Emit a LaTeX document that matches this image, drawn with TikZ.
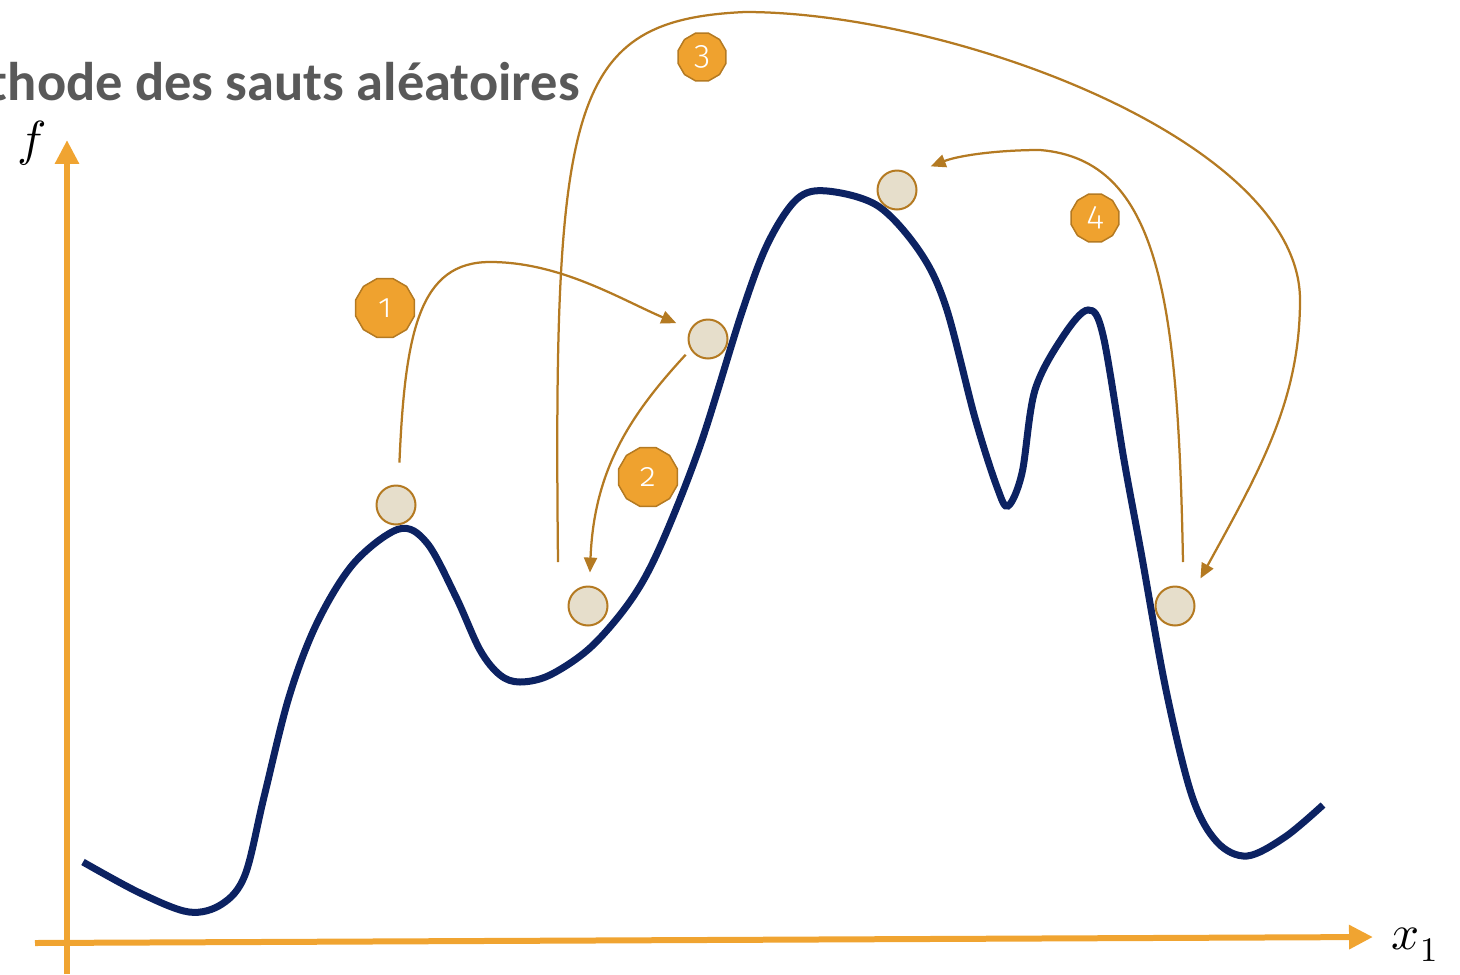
\documentclass[tikz,border=0pt]{standalone}
\usepackage{fontspec}
\usepackage{unicode-math}
\setsansfont{Carlito}
\newfontfamily\badgefont[Numbers=OldStyle]{Fira Sans Light}
\usetikzlibrary{arrows.meta,shapes.geometric}
\definecolor{axisorange}{HTML}{F0A431}
\definecolor{badgeorange}{HTML}{EFA22F}
\definecolor{jumpbrown}{HTML}{B47A22}
\definecolor{curvenavy}{HTML}{0C2262}
\definecolor{ballbeige}{HTML}{E6DECB}
\definecolor{titlegray}{HTML}{595959}
\tikzset{
  ball/.style={
    shape = circle,
    draw = jumpbrown,
    fill = ballbeige,
    line width = 0.04cm,
    minimum size = 0.78cm,
    inner sep = 0pt
  },
  badge/.style={
    shape = regular polygon,
    regular polygon sides = 12,
    draw = jumpbrown,
    fill = badgeorange,
    line width = 0.03cm,
    inner sep = 0pt,
    text = white,
    font = \badgefont\fontsize{19}{19}\selectfont
  },
  jump/.style={
    draw = jumpbrown,
    line width = 0.045cm,
    -{Triangle[length=0.3cm,width=0.26cm]}
  },
  axis/.style={
    draw = axisorange,
    line width = 0.12cm,
    -{Triangle[length=0.48cm,width=0.46cm]}
  },
  landscape/.style={
    draw = curvenavy,
    line width = 0.14cm
  },
  heading/.style={
    font = \sffamily\bfseries\fontsize{31}{36}\selectfont,
    text = titlegray,
    anchor = base east,
    inner sep = 0pt
  },
  axislabel/.style={
    font = \fontsize{28}{28}\selectfont
  }
}

\begin{document}
\begin{tikzpicture}[x=0.02cm, y=-0.02cm]
  \useasboundingbox (0,0) rectangle (1460,974);
  \draw[axis] (67,974) -- (67,140);
  \draw[axis] (35,943) -- (1373,937);
  \node[axislabel] (flabel) at (32,143) {$f$};
  \node[axislabel] (xlabel) at (1415,945) {$x_1$};
  \node[heading] (title) at (580,100) {Méthode des sauts aléatoires};
  \draw[landscape] plot[smooth, tension=0.55] coordinates {
    (83,862) (140,893) (189,912) (222,904) (245,875) (264,797) (289,697)
    (317,623) (354,563) (399,529) (427,543) (456,597) (480,650) (500,675)
    (520,682) (550,675) (591,647) (631,600) (660,547) (700,446) (742,312)
    (768,243) (797,199) (827,191) (878,206) (920,252) (946,307) (975,418)
    (997,487) (1008,506) (1022,473) (1035,390) (1064,335) (1088,310)
    (1103,335) (1124,460) (1141,552) (1166,690) (1192,796) (1217,842)
    (1247,856) (1285,837) (1323,805)};
  \foreach \n/\x/\y in {1/396/505, 2/588/606, 3/708/339, 4/897/190, 5/1175/606}
    \node[ball] (b\n) at (\x,\y) {};
  \foreach \n/\x/\y/\s in {1/385/308/1.22, 2/648/477/1.22, 3/702/57/0.99, 4/1095/218/0.99}
    \node[badge, minimum size=\s cm] (n\n) at (\x,\y) {\n};
  \coordinate (s3) at ([shift={(-30,-44)}]b2);
  \coordinate (s4) at ([shift={(8,-44)}]b5);
  \draw[jump, shorten <=0.44cm, shorten >=0.3cm] (b1.83)
    .. controls (405,330) and (420,262) .. (490,262)
    .. controls (560,262) and (620,299) .. (b3.151);
  \draw[jump, shorten <=0.14cm, shorten >=0.26cm] (b3.211)
    .. controls (630,415) and (594,470) .. (b2.86);
  \draw[jump, shorten >=0.36cm] (s3)
    .. controls (553,100) and (570,20) .. (745,12)
    .. controls (950,12) and (1300,140) .. (1300,300)
    .. controls (1300,400) and (1260,470) .. (b5.35);
  \draw[jump, shorten >=0.44cm] (s4)
    .. controls (1178,300) and (1160,160) .. (1040,150)
    .. controls (1000,150) and (960,155) .. (b4.50);
\end{tikzpicture}
\end{document}
